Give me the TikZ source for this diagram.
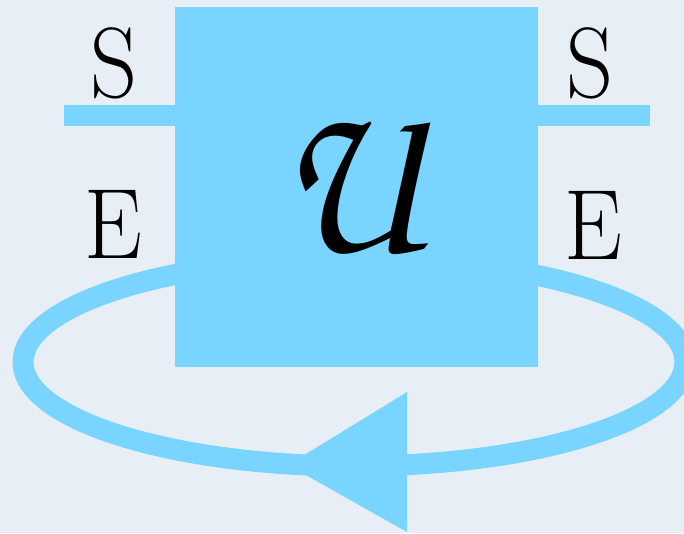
\documentclass[tikz,border=0pt]{standalone}
\usepackage[T1,TU]{fontenc}
\definecolor{bgpaper}{HTML}{E8EEF5}
\definecolor{skyblue}{HTML}{79D5FF}
\tikzset{
  wire/.style={draw=skyblue, line width=21pt},
  lbl/.style={anchor=base, inner sep=0pt, font=\fontsize{100}{100}\selectfont, xscale=0.92, transform shape},
  gate/.style={fill=skyblue, inner sep=0pt, minimum width=363pt, minimum height=360pt},
}
\begin{document}
\begin{tikzpicture}[x=1pt,y=-1pt]
\useasboundingbox (0,0) rectangle (684,533);
\clip (0,0) rectangle (684,533);
\fill[bgpaper] (0,0) rectangle (684,533);
% loop
\draw[wire] (354,362) ellipse [x radius=331, y radius=104];
\fill[skyblue] (288,465) -- (407,392) -- (407,532) -- cycle;
% gate
\node[gate] (G) at (356.5,187) {};
\node[inner sep=0pt, anchor=base, xscale=0.88, transform shape] (Ulbl) at (350,251)
  {\fontsize{224}{224}\usefont{T1}{pzc}{mb}{it}U};
% system wires
\coordinate (sl) at (64,115);
\coordinate (sr) at (650,115);
\draw[wire] (sl) -- (sl -| G.west);
\draw[wire] (G.east |- sr) -- (sr);
% labels
\node[lbl] (S1) at (114.5,97) {S};
\node[lbl] (S2) at (589.5,97) {S};
\node[lbl] (E1) at (113.5,258) {E};
\node[lbl] (E2) at (593,259) {E};
\end{tikzpicture}
\end{document}
